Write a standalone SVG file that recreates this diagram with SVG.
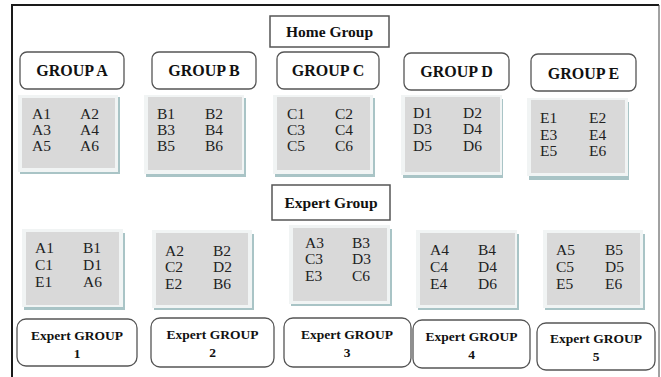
<svg xmlns="http://www.w3.org/2000/svg" width="661" height="377" viewBox="0 0 661 377">
<style>
.frame{fill:none;stroke:#1a1a1a;stroke-width:2}
.lbl{fill:#fff;stroke:#555;stroke-width:1.3}
.hdr{fill:#fff;stroke:#555;stroke-width:1.5}
.t{fill:#222;font-size:15.5px}
.b{fill:#111;font-weight:bold}
.sh{fill:#a9c4c6}
.out{fill:#f1f4f4}
.in{fill:#d9d9d9}
</style>
<rect x="0" y="0" width="661" height="377" fill="#fff"/>
<path class="frame" d="M12,377 V5 H659"/>
<line x1="659" y1="5" x2="659" y2="377" stroke="#444" stroke-width="1"/>
<g font-family="'Liberation Serif', 'Times New Roman', 'DejaVu Serif', serif">
<g id="home-group">
<rect class="hdr" x="270" y="16" width="119" height="31"/>
<text class="b" x="329.5" y="37" font-size="15.5" text-anchor="middle">Home Group</text>
</g>

<g id="group-a-label"><rect class="lbl" x="20" y="52" width="104" height="37" rx="7"/><text class="b" x="72" y="76" font-size="16" text-anchor="middle">GROUP A</text></g>
<g id="group-b-label"><rect class="lbl" x="152" y="52" width="104" height="37" rx="7"/><text class="b" x="204" y="76" font-size="16" text-anchor="middle">GROUP B</text></g>
<g id="group-c-label"><rect class="lbl" x="277" y="52" width="102" height="37" rx="7"/><text class="b" x="328" y="76" font-size="16" text-anchor="middle">GROUP C</text></g>
<g id="group-d-label"><rect class="lbl" x="404" y="53" width="105" height="37" rx="7"/><text class="b" x="456.5" y="77" font-size="16" text-anchor="middle">GROUP D</text></g>
<g id="group-e-label"><rect class="lbl" x="531" y="54" width="105" height="37" rx="7"/><text class="b" x="583.5" y="79" font-size="16" text-anchor="middle">GROUP E</text></g>

<g id="group-a-members">
<rect class="sh" x="20" y="97" width="100" height="77"/><rect class="out" x="18" y="95" width="100" height="77"/><rect class="in" x="22" y="98" width="93" height="70"/>
<text class="t" x="32" y="119">A1</text><text class="t" x="80" y="119">A2</text>
<text class="t" x="32" y="135">A3</text><text class="t" x="80" y="135">A4</text>
<text class="t" x="32" y="151">A5</text><text class="t" x="80" y="151">A6</text>
</g>
<g id="group-b-members">
<rect class="sh" x="146" y="98" width="100" height="79"/><rect class="out" x="144" y="95" width="100" height="79"/><rect class="in" x="148" y="97" width="94" height="73"/>
<text class="t" x="157" y="119">B1</text><text class="t" x="205" y="119">B2</text>
<text class="t" x="157" y="135">B3</text><text class="t" x="205" y="135">B4</text>
<text class="t" x="157" y="151">B5</text><text class="t" x="205" y="151">B6</text>
</g>
<g id="group-c-members">
<rect class="sh" x="275" y="98" width="100" height="79"/><rect class="out" x="273" y="95" width="100" height="79"/><rect class="in" x="277" y="97" width="93" height="73"/>
<text class="t" x="287" y="119">C1</text><text class="t" x="335" y="119">C2</text>
<text class="t" x="287" y="135">C3</text><text class="t" x="335" y="135">C4</text>
<text class="t" x="287" y="151">C5</text><text class="t" x="335" y="151">C6</text>
</g>
<g id="group-d-members">
<rect class="sh" x="403" y="99" width="100" height="79"/><rect class="out" x="401" y="95" width="101" height="80"/><rect class="in" x="405" y="97" width="95" height="75"/>
<text class="t" x="413" y="118">D1</text><text class="t" x="463" y="118">D2</text>
<text class="t" x="413" y="134">D3</text><text class="t" x="463" y="134">D4</text>
<text class="t" x="413" y="151">D5</text><text class="t" x="463" y="151">D6</text>
</g>
<g id="group-e-members">
<rect class="sh" x="529" y="102" width="100" height="78"/><rect class="out" x="527" y="98" width="101" height="78"/><rect class="in" x="531" y="100" width="94" height="73"/>
<text class="t" x="540" y="123">E1</text><text class="t" x="589" y="123">E2</text>
<text class="t" x="540" y="140">E3</text><text class="t" x="589" y="140">E4</text>
<text class="t" x="540" y="156">E5</text><text class="t" x="589" y="156">E6</text>
</g>

<g id="expert-group">
<rect class="hdr" x="272" y="185" width="118" height="35"/>
<text class="b" x="331" y="208" font-size="15.5" text-anchor="middle">Expert Group</text>
</g>

<g id="expert-1-members">
<rect class="sh" x="24" y="233" width="101" height="77"/><rect class="out" x="22" y="229" width="101" height="78"/><rect class="in" x="26" y="232" width="93" height="73"/>
<text class="t" x="35" y="253">A1</text><text class="t" x="83" y="253">B1</text>
<text class="t" x="35" y="270">C1</text><text class="t" x="83" y="270">D1</text>
<text class="t" x="35" y="287">E1</text><text class="t" x="83" y="287">A6</text>
</g>
<g id="expert-2-members">
<rect class="sh" x="154" y="234" width="100" height="76"/><rect class="out" x="152" y="230" width="100" height="78"/><rect class="in" x="156" y="233" width="92" height="72"/>
<text class="t" x="165" y="256">A2</text><text class="t" x="213" y="256">B2</text>
<text class="t" x="165" y="272">C2</text><text class="t" x="213" y="272">D2</text>
<text class="t" x="165" y="289">E2</text><text class="t" x="213" y="289">B6</text>
</g>
<g id="expert-3-members">
<rect class="sh" x="291" y="229" width="101" height="77"/><rect class="out" x="289" y="225" width="101" height="79"/><rect class="in" x="293" y="228" width="94" height="73"/>
<text class="t" x="305" y="248">A3</text><text class="t" x="352" y="248">B3</text>
<text class="t" x="305" y="264">C3</text><text class="t" x="352" y="264">D3</text>
<text class="t" x="305" y="281">E3</text><text class="t" x="352" y="281">C6</text>
</g>
<g id="expert-4-members">
<rect class="sh" x="418" y="234" width="101" height="76"/><rect class="out" x="416" y="230" width="101" height="78"/><rect class="in" x="420" y="233" width="95" height="72"/>
<text class="t" x="430" y="255">A4</text><text class="t" x="478" y="255">B4</text>
<text class="t" x="430" y="272">C4</text><text class="t" x="478" y="272">D4</text>
<text class="t" x="430" y="289">E4</text><text class="t" x="478" y="289">D6</text>
</g>
<g id="expert-5-members">
<rect class="sh" x="545" y="234" width="100" height="76"/><rect class="out" x="543" y="230" width="100" height="78"/><rect class="in" x="547" y="233" width="93" height="72"/>
<text class="t" x="556" y="255">A5</text><text class="t" x="605" y="255">B5</text>
<text class="t" x="556" y="272">C5</text><text class="t" x="605" y="272">D5</text>
<text class="t" x="556" y="289">E5</text><text class="t" x="605" y="289">E6</text>
</g>

<g id="expert-group-1"><rect class="lbl" x="17" y="319" width="120" height="47" rx="9"/><text class="b" font-size="13.5" text-anchor="middle"><tspan x="77" y="340">Expert GROUP</tspan><tspan x="77" y="358">1</tspan></text></g>
<g id="expert-group-2"><rect class="lbl" x="151" y="318" width="123" height="49" rx="9"/><text class="b" font-size="13.5" text-anchor="middle"><tspan x="212.5" y="339">Expert GROUP</tspan><tspan x="212.5" y="357">2</tspan></text></g>
<g id="expert-group-3"><rect class="lbl" x="284" y="318" width="127" height="49" rx="9"/><text class="b" font-size="13.5" text-anchor="middle"><tspan x="347" y="339">Expert GROUP</tspan><tspan x="347" y="357">3</tspan></text></g>
<g id="expert-group-4"><rect class="lbl" x="413" y="320" width="117" height="48" rx="9"/><text class="b" font-size="13.5" text-anchor="middle"><tspan x="471.5" y="341">Expert GROUP</tspan><tspan x="471.5" y="359">4</tspan></text></g>
<g id="expert-group-5"><rect class="lbl" x="537" y="323" width="118" height="47" rx="9"/><text class="b" font-size="13.5" text-anchor="middle"><tspan x="596" y="343">Expert GROUP</tspan><tspan x="596" y="361">5</tspan></text></g>
</g>
</svg>
